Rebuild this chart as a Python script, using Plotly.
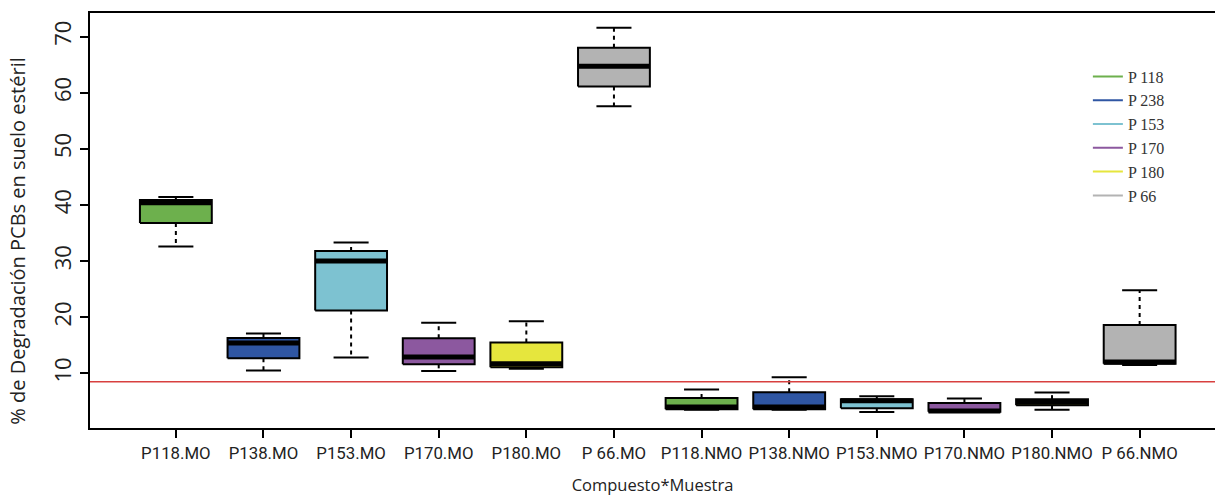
import plotly.graph_objects as go

categories = ["P118.MO", "P138.MO", "P153.MO", "P170.MO", "P180.MO", "P 66.MO",
              "P118.NMO", "P138.NMO", "P153.NMO", "P170.NMO", "P180.NMO", "P 66.NMO"]
lower_whisker = [32.6, 10.5, 12.8, 10.4, 10.8, 57.6, 3.5, 3.5, 3.1, 3.1, 3.5, 11.5]
q1 = [36.8, 12.7, 21.2, 11.6, 11.1, 61.1, 3.6, 3.6, 3.8, 3.15, 4.3, 11.7]
median = [40.4, 15.4, 30.0, 12.9, 11.7, 64.7, 4.0, 4.0, 5.1, 3.3, 4.85, 12.0]
q3 = [40.9, 16.3, 31.8, 16.25, 15.5, 68.0, 5.6, 6.65, 5.4, 4.7, 5.4, 18.6]
upper_whisker = [41.4, 17.1, 33.3, 19.0, 19.3, 71.55, 7.1, 9.3, 5.9, 5.5, 6.6, 24.8]

legend_names = ["P 118", "P 238", "P 153", "P 170", "P 180", "P 66"]
colors = ["#6db04d", "#2f56a3", "#7dc2d1", "#8c589f", "#e6e63d", "#b3b3b3"]
threshold = 8.5
y_ticks = [10, 20, 30, 40, 50, 60, 70]

half_box = 0.41
half_staple = 0.2

fig = go.Figure()

wx, wy = [], []
sx, sy = [], []
mx, my = [], []
for i, c in enumerate(categories):
    p = i + 1
    wx += [p, p, None, p, p, None]
    wy += [q3[i], upper_whisker[i], None, q1[i], lower_whisker[i], None]
    sx += [p - half_staple, p + half_staple, None, p - half_staple, p + half_staple, None]
    sy += [upper_whisker[i], upper_whisker[i], None, lower_whisker[i], lower_whisker[i], None]
    mx += [p - half_box, p + half_box, None]
    my += [median[i], median[i], None]

fig.add_trace(go.Scatter(x=wx, y=wy, mode="lines", showlegend=False, hoverinfo="skip",
                         line=dict(color="black", width=2, dash="4px,4px")))
fig.add_trace(go.Scatter(x=sx, y=sy, mode="lines", showlegend=False, hoverinfo="skip",
                         line=dict(color="black", width=2)))

for i, c in enumerate(categories):
    p = i + 1
    col = colors[i % len(colors)]
    fig.add_trace(go.Scatter(
        x=[p - half_box, p + half_box, p + half_box, p - half_box, p - half_box],
        y=[q1[i], q1[i], q3[i], q3[i], q1[i]],
        mode="lines", fill="toself", fillcolor=col,
        line=dict(color="black", width=2), showlegend=False, name=c))

fig.add_trace(go.Scatter(x=mx, y=my, mode="lines", showlegend=False, hoverinfo="skip",
                         line=dict(color="black", width=5)))

for name, col in zip(legend_names, colors):
    fig.add_trace(go.Scatter(x=[None], y=[None], mode="lines", name=name,
                             line=dict(color=col, width=2)))

fig.add_hline(y=threshold, line=dict(color="#d8403f", width=1.5))

fig.add_annotation(text="% de Degradación PCBs en suelo estéril", textangle=-90,
                   xref="paper", yref="paper", x=-0.0645, y=0.45, xanchor="center",
                   yanchor="middle", showarrow=False,
                   font=dict(family="Open Sans", size=20, color="#222"))

fig.update_layout(
    width=1215, height=496,
    margin=dict(l=90, r=0, t=13, b=68),
    paper_bgcolor="white", plot_bgcolor="white",
    showlegend=True,
    legend=dict(x=0.887, y=0.888, xanchor="left", yanchor="top",
                font=dict(family="Liberation Serif", size=16, color="#333"),
                bgcolor="rgba(0,0,0,0)", tracegroupgap=0),
    xaxis=dict(range=[0.02, 12.86], tickmode="array", tickvals=list(range(1, len(categories) + 1)),
               ticktext=categories, showline=True, linecolor="black", linewidth=2, mirror=True,
               ticks="outside", ticklen=8, tickwidth=1.5, tickcolor="black",
               showgrid=False, zeroline=False, ticklabelstandoff=1, tickangle=0, automargin=False,
               tickfont=dict(family="Roboto", size=16.8, color="#222"),
               title=dict(text="Compuesto*Muestra", standoff=24,
                          font=dict(family="Open Sans", size=16.5, color="#222"))),
    yaxis=dict(range=[0.26, 74.2], tickmode="array", tickvals=y_ticks,
               showline=True, linecolor="black", linewidth=2, automargin=False,
               ticks="outside", ticklen=8, tickwidth=1.5, tickcolor="black",
               tickangle=-90, showgrid=False, zeroline=False, ticklabelstandoff=0,
               tickfont=dict(family="Open Sans", size=22, color="#222")),
)

fig.write_html("out.html", config={"displayModeBar": False},
               post_script="document.body.style.margin='0px';")
